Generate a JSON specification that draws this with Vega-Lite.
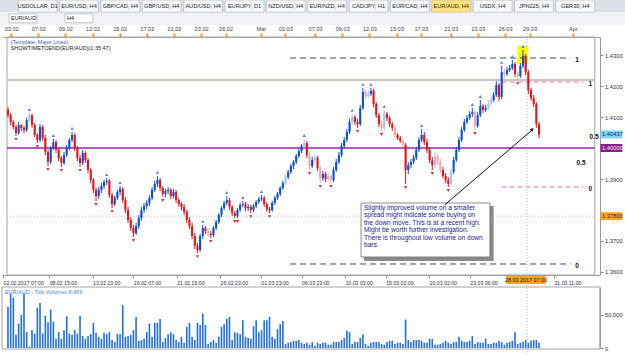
{
"$schema": "https://vega.github.io/schema/vega-lite/v6.json",
"width": 625, "height": 355, "padding": 0, "autosize": "none",
"background": "#ffffff",
"config": {"view": {"stroke": null}, "font": "Liberation Sans",
  "axis": {"labelFont": "Liberation Sans", "labelFontSize": 6, "labelColor": "#30304a", "titleOpacity": 0, "grid": false, "domainColor": "#9a9a9a", "tickColor": "#8a8a8a", "tickSize": 3, "labelPadding": 1.5},
  "text": {"font": "Liberation Sans"}},
"datasets": {"bars": [
{"i":0,"o":1.4123,"h":1.4132,"l":1.4097,"c":1.4106,"v":62000},
{"i":1,"o":1.4106,"h":1.4113,"l":1.4074,"c":1.4084,"v":82000},
{"i":2,"o":1.4084,"h":1.4090,"l":1.4061,"c":1.4068,"v":76000},
{"i":3,"o":1.4068,"h":1.4074,"l":1.4039,"c":1.4048,"v":20000},
{"i":4,"o":1.4048,"h":1.4084,"l":1.4042,"c":1.4074,"v":37000},
{"i":5,"o":1.4074,"h":1.4077,"l":1.4055,"c":1.4065,"v":50000},
{"i":6,"o":1.4065,"h":1.4071,"l":1.4048,"c":1.4058,"v":83000},
{"i":7,"o":1.4058,"h":1.4097,"l":1.4052,"c":1.4090,"v":24000},
{"i":8,"o":1.4090,"h":1.4113,"l":1.4084,"c":1.4106,"v":2000},
{"i":9,"o":1.4106,"h":1.4110,"l":1.4065,"c":1.4074,"v":27000},
{"i":10,"o":1.4074,"h":1.4081,"l":1.4035,"c":1.4042,"v":22000},
{"i":11,"o":1.4042,"h":1.4048,"l":1.4016,"c":1.4026,"v":61000},
{"i":12,"o":1.4026,"h":1.4077,"l":1.4019,"c":1.4068,"v":68000},
{"i":13,"o":1.4068,"h":1.4074,"l":1.4023,"c":1.4032,"v":22000},
{"i":14,"o":1.4032,"h":1.4042,"l":1.3977,"c":1.3987,"v":49000},
{"i":15,"o":1.3987,"h":1.3994,"l":1.3942,"c":1.3955,"v":39000},
{"i":16,"o":1.3955,"h":1.4006,"l":1.3948,"c":1.4000,"v":58000},
{"i":17,"o":1.4000,"h":1.4029,"l":1.3994,"c":1.4019,"v":40000},
{"i":18,"o":1.4019,"h":1.4026,"l":1.3984,"c":1.3994,"v":14000},
{"i":19,"o":1.3994,"h":1.4000,"l":1.3958,"c":1.3968,"v":24000},
{"i":20,"o":1.3968,"h":1.3974,"l":1.3939,"c":1.3952,"v":14000},
{"i":21,"o":1.3952,"h":1.3987,"l":1.3945,"c":1.3977,"v":27000},
{"i":22,"o":1.3977,"h":1.4010,"l":1.3971,"c":1.4000,"v":48000},
{"i":23,"o":1.4000,"h":1.4032,"l":1.3994,"c":1.4026,"v":22000},
{"i":24,"o":1.4026,"h":1.4052,"l":1.4019,"c":1.4042,"v":20000},
{"i":25,"o":1.4042,"h":1.4048,"l":1.3990,"c":1.4000,"v":27000},
{"i":26,"o":1.4000,"h":1.4006,"l":1.3958,"c":1.3968,"v":22000},
{"i":27,"o":1.3968,"h":1.3977,"l":1.3939,"c":1.3952,"v":49000},
{"i":28,"o":1.3952,"h":1.3994,"l":1.3945,"c":1.3984,"v":18000},
{"i":29,"o":1.3984,"h":1.3990,"l":1.3952,"c":1.3961,"v":14000},
{"i":30,"o":1.3961,"h":1.3968,"l":1.3919,"c":1.3929,"v":18000},
{"i":31,"o":1.3929,"h":1.3935,"l":1.3887,"c":1.3897,"v":21000},
{"i":32,"o":1.3897,"h":1.3903,"l":1.3855,"c":1.3865,"v":38000},
{"i":33,"o":1.3865,"h":1.3871,"l":1.3829,"c":1.3845,"v":23000},
{"i":34,"o":1.3845,"h":1.3874,"l":1.3835,"c":1.3865,"v":17000},
{"i":35,"o":1.3865,"h":1.3887,"l":1.3855,"c":1.3877,"v":14000},
{"i":36,"o":1.3877,"h":1.3897,"l":1.3868,"c":1.3890,"v":23000},
{"i":37,"o":1.3890,"h":1.3903,"l":1.3881,"c":1.3894,"v":21000},
{"i":38,"o":1.3894,"h":1.3900,"l":1.3839,"c":1.3848,"v":24000},
{"i":39,"o":1.3848,"h":1.3855,"l":1.3806,"c":1.3819,"v":12000},
{"i":40,"o":1.3819,"h":1.3845,"l":1.3813,"c":1.3839,"v":9000},
{"i":41,"o":1.3839,"h":1.3865,"l":1.3832,"c":1.3858,"v":21000},
{"i":42,"o":1.3858,"h":1.3877,"l":1.3848,"c":1.3868,"v":21000},
{"i":43,"o":1.3868,"h":1.3874,"l":1.3823,"c":1.3832,"v":65000},
{"i":44,"o":1.3832,"h":1.3842,"l":1.3790,"c":1.3800,"v":17000},
{"i":45,"o":1.3800,"h":1.3810,"l":1.3758,"c":1.3768,"v":18000},
{"i":46,"o":1.3768,"h":1.3777,"l":1.3732,"c":1.3742,"v":20000},
{"i":47,"o":1.3742,"h":1.3752,"l":1.3713,"c":1.3726,"v":27000},
{"i":48,"o":1.3726,"h":1.3758,"l":1.3719,"c":1.3748,"v":47000},
{"i":49,"o":1.3748,"h":1.3784,"l":1.3739,"c":1.3774,"v":11000},
{"i":50,"o":1.3774,"h":1.3810,"l":1.3765,"c":1.3800,"v":12000},
{"i":51,"o":1.3800,"h":1.3823,"l":1.3790,"c":1.3813,"v":14000},
{"i":52,"o":1.3813,"h":1.3832,"l":1.3803,"c":1.3823,"v":24000},
{"i":53,"o":1.3823,"h":1.3848,"l":1.3813,"c":1.3839,"v":37000},
{"i":54,"o":1.3839,"h":1.3874,"l":1.3832,"c":1.3865,"v":17000},
{"i":55,"o":1.3865,"h":1.3894,"l":1.3858,"c":1.3884,"v":38000},
{"i":56,"o":1.3884,"h":1.3910,"l":1.3874,"c":1.3897,"v":38000},
{"i":57,"o":1.3897,"h":1.3903,"l":1.3861,"c":1.3871,"v":44000},
{"i":58,"o":1.3871,"h":1.3877,"l":1.3842,"c":1.3852,"v":9000},
{"i":59,"o":1.3852,"h":1.3868,"l":1.3842,"c":1.3861,"v":15000},
{"i":60,"o":1.3861,"h":1.3874,"l":1.3852,"c":1.3865,"v":21000},
{"i":61,"o":1.3865,"h":1.3871,"l":1.3835,"c":1.3845,"v":24000},
{"i":62,"o":1.3845,"h":1.3868,"l":1.3839,"c":1.3858,"v":21000},
{"i":63,"o":1.3858,"h":1.3865,"l":1.3823,"c":1.3832,"v":12000},
{"i":64,"o":1.3832,"h":1.3839,"l":1.3810,"c":1.3819,"v":9000},
{"i":65,"o":1.3819,"h":1.3826,"l":1.3800,"c":1.3810,"v":17000},
{"i":66,"o":1.3810,"h":1.3819,"l":1.3784,"c":1.3794,"v":8000},
{"i":67,"o":1.3794,"h":1.3800,"l":1.3758,"c":1.3768,"v":32000},
{"i":68,"o":1.3768,"h":1.3777,"l":1.3739,"c":1.3748,"v":38000},
{"i":69,"o":1.3748,"h":1.3758,"l":1.3706,"c":1.3716,"v":17000},
{"i":70,"o":1.3716,"h":1.3726,"l":1.3674,"c":1.3684,"v":12000},
{"i":71,"o":1.3684,"h":1.3694,"l":1.3661,"c":1.3671,"v":38000},
{"i":72,"o":1.3671,"h":1.3723,"l":1.3665,"c":1.3716,"v":35000},
{"i":73,"o":1.3716,"h":1.3752,"l":1.3706,"c":1.3742,"v":52000},
{"i":74,"o":1.3742,"h":1.3748,"l":1.3723,"c":1.3732,"v":35000},
{"i":75,"o":1.3732,"h":1.3739,"l":1.3713,"c":1.3723,"v":6000},
{"i":76,"o":1.3723,"h":1.3732,"l":1.3710,"c":1.3719,"v":9000},
{"i":77,"o":1.3719,"h":1.3748,"l":1.3713,"c":1.3742,"v":12000},
{"i":78,"o":1.3742,"h":1.3768,"l":1.3735,"c":1.3761,"v":8000},
{"i":79,"o":1.3761,"h":1.3790,"l":1.3755,"c":1.3784,"v":17000},
{"i":80,"o":1.3784,"h":1.3813,"l":1.3777,"c":1.3806,"v":32000},
{"i":81,"o":1.3806,"h":1.3829,"l":1.3800,"c":1.3823,"v":36000},
{"i":82,"o":1.3823,"h":1.3845,"l":1.3816,"c":1.3832,"v":44000},
{"i":83,"o":1.3832,"h":1.3839,"l":1.3800,"c":1.3810,"v":47000},
{"i":84,"o":1.3810,"h":1.3816,"l":1.3781,"c":1.3790,"v":12000},
{"i":85,"o":1.3790,"h":1.3797,"l":1.3774,"c":1.3781,"v":24000},
{"i":86,"o":1.3781,"h":1.3806,"l":1.3774,"c":1.3800,"v":23000},
{"i":87,"o":1.3800,"h":1.3823,"l":1.3794,"c":1.3816,"v":21000},
{"i":88,"o":1.3816,"h":1.3829,"l":1.3810,"c":1.3819,"v":42000},
{"i":89,"o":1.3819,"h":1.3826,"l":1.3797,"c":1.3806,"v":17000},
{"i":90,"o":1.3806,"h":1.3819,"l":1.3797,"c":1.3810,"v":15000},
{"i":91,"o":1.3810,"h":1.3816,"l":1.3790,"c":1.3800,"v":14000},
{"i":92,"o":1.3800,"h":1.3819,"l":1.3794,"c":1.3813,"v":33000},
{"i":93,"o":1.3813,"h":1.3832,"l":1.3806,"c":1.3826,"v":42000},
{"i":94,"o":1.3826,"h":1.3842,"l":1.3819,"c":1.3835,"v":24000},
{"i":95,"o":1.3835,"h":1.3848,"l":1.3829,"c":1.3839,"v":27000},
{"i":96,"o":1.3839,"h":1.3845,"l":1.3810,"c":1.3819,"v":42000},
{"i":97,"o":1.3819,"h":1.3826,"l":1.3794,"c":1.3803,"v":42000},
{"i":98,"o":1.3803,"h":1.3810,"l":1.3790,"c":1.3800,"v":47000},
{"i":99,"o":1.3800,"h":1.3829,"l":1.3794,"c":1.3823,"v":17000},
{"i":100,"o":1.3823,"h":1.3845,"l":1.3816,"c":1.3839,"v":14000},
{"i":101,"o":1.3839,"h":1.3858,"l":1.3832,"c":1.3852,"v":29000},
{"i":102,"o":1.3852,"h":1.3877,"l":1.3845,"c":1.3871,"v":36000},
{"i":103,"o":1.3871,"h":1.3894,"l":1.3865,"c":1.3887,"v":41000},
{"i":104,"o":1.3887,"h":1.3913,"l":1.3881,"c":1.3906,"v":6000},
{"i":105,"o":1.3906,"h":1.3929,"l":1.3900,"c":1.3923,"v":8000},
{"i":106,"o":1.3923,"h":1.3948,"l":1.3916,"c":1.3942,"v":9000},
{"i":107,"o":1.3942,"h":1.3961,"l":1.3932,"c":1.3955,"v":11000},
{"i":108,"o":1.3955,"h":1.3981,"l":1.3948,"c":1.3974,"v":11000},
{"i":109,"o":1.3974,"h":1.3997,"l":1.3968,"c":1.3990,"v":12000},
{"i":110,"o":1.3990,"h":1.4013,"l":1.3984,"c":1.4006,"v":8000},
{"i":111,"o":1.4006,"h":1.4029,"l":1.4000,"c":1.4016,"v":6000},
{"i":112,"o":1.4016,"h":1.4023,"l":1.3968,"c":1.3977,"v":8000},
{"i":113,"o":1.3977,"h":1.3987,"l":1.3929,"c":1.3942,"v":5000},
{"i":114,"o":1.3942,"h":1.3971,"l":1.3935,"c":1.3961,"v":9000},
{"i":115,"o":1.3961,"h":1.3977,"l":1.3952,"c":1.3968,"v":3000},
{"i":116,"o":1.3968,"h":1.3974,"l":1.3926,"c":1.3935,"v":8000},
{"i":117,"o":1.3935,"h":1.3942,"l":1.3887,"c":1.3903,"v":6000},
{"i":118,"o":1.3903,"h":1.3926,"l":1.3894,"c":1.3916,"v":8000},
{"i":119,"o":1.3916,"h":1.3923,"l":1.3890,"c":1.3900,"v":8000},
{"i":120,"o":1.3900,"h":1.3919,"l":1.3894,"c":1.3910,"v":5000},
{"i":121,"o":1.3910,"h":1.3916,"l":1.3887,"c":1.3897,"v":5000},
{"i":122,"o":1.3897,"h":1.3939,"l":1.3890,"c":1.3929,"v":9000},
{"i":123,"o":1.3929,"h":1.3965,"l":1.3923,"c":1.3955,"v":9000},
{"i":124,"o":1.3955,"h":1.3987,"l":1.3948,"c":1.3977,"v":9000},
{"i":125,"o":1.3977,"h":1.4016,"l":1.3971,"c":1.4006,"v":12000},
{"i":126,"o":1.4006,"h":1.4035,"l":1.4000,"c":1.4026,"v":15000},
{"i":127,"o":1.4026,"h":1.4061,"l":1.4019,"c":1.4052,"v":26000},
{"i":128,"o":1.4052,"h":1.4094,"l":1.4045,"c":1.4084,"v":24000},
{"i":129,"o":1.4084,"h":1.4110,"l":1.4077,"c":1.4100,"v":6000},
{"i":130,"o":1.4100,"h":1.4106,"l":1.4074,"c":1.4084,"v":9000},
{"i":131,"o":1.4084,"h":1.4094,"l":1.4065,"c":1.4077,"v":9000},
{"i":132,"o":1.4077,"h":1.4139,"l":1.4071,"c":1.4129,"v":15000},
{"i":133,"o":1.4129,"h":1.4194,"l":1.4123,"c":1.4181,"v":21000},
{"i":134,"o":1.4181,"h":1.4187,"l":1.4158,"c":1.4168,"v":6000},
{"i":135,"o":1.4168,"h":1.4184,"l":1.4161,"c":1.4174,"v":3000},
{"i":136,"o":1.4174,"h":1.4194,"l":1.4168,"c":1.4184,"v":8000},
{"i":137,"o":1.4184,"h":1.4190,"l":1.4132,"c":1.4142,"v":9000},
{"i":138,"o":1.4142,"h":1.4148,"l":1.4097,"c":1.4106,"v":9000},
{"i":139,"o":1.4106,"h":1.4113,"l":1.4068,"c":1.4077,"v":9000},
{"i":140,"o":1.4077,"h":1.4087,"l":1.4055,"c":1.4065,"v":6000},
{"i":141,"o":1.4065,"h":1.4123,"l":1.4058,"c":1.4110,"v":5000},
{"i":142,"o":1.4110,"h":1.4116,"l":1.4087,"c":1.4097,"v":9000},
{"i":143,"o":1.4097,"h":1.4103,"l":1.4068,"c":1.4077,"v":11000},
{"i":144,"o":1.4077,"h":1.4084,"l":1.4055,"c":1.4065,"v":11000},
{"i":145,"o":1.4065,"h":1.4071,"l":1.4035,"c":1.4042,"v":6000},
{"i":146,"o":1.4042,"h":1.4048,"l":1.4026,"c":1.4032,"v":8000},
{"i":147,"o":1.4032,"h":1.4039,"l":1.4016,"c":1.4023,"v":8000},
{"i":148,"o":1.4023,"h":1.4029,"l":1.4003,"c":1.4010,"v":6000},
{"i":149,"o":1.4010,"h":1.4016,"l":1.3884,"c":1.3929,"v":43000},
{"i":150,"o":1.3929,"h":1.3955,"l":1.3916,"c":1.3945,"v":12000},
{"i":151,"o":1.3945,"h":1.3965,"l":1.3935,"c":1.3955,"v":9000},
{"i":152,"o":1.3955,"h":1.3977,"l":1.3948,"c":1.3968,"v":12000},
{"i":153,"o":1.3968,"h":1.4003,"l":1.3961,"c":1.3994,"v":12000},
{"i":154,"o":1.3994,"h":1.4035,"l":1.3987,"c":1.4026,"v":12000},
{"i":155,"o":1.4026,"h":1.4061,"l":1.4019,"c":1.4042,"v":11000},
{"i":156,"o":1.4042,"h":1.4052,"l":1.4010,"c":1.4019,"v":8000},
{"i":157,"o":1.4019,"h":1.4029,"l":1.3984,"c":1.3994,"v":8000},
{"i":158,"o":1.3994,"h":1.4003,"l":1.3952,"c":1.3961,"v":14000},
{"i":159,"o":1.3961,"h":1.3971,"l":1.3929,"c":1.3945,"v":14000},
{"i":160,"o":1.3945,"h":1.3987,"l":1.3935,"c":1.3974,"v":5000},
{"i":161,"o":1.3974,"h":1.3981,"l":1.3945,"c":1.3955,"v":5000},
{"i":162,"o":1.3955,"h":1.3965,"l":1.3919,"c":1.3929,"v":6000},
{"i":163,"o":1.3929,"h":1.3939,"l":1.3903,"c":1.3910,"v":8000},
{"i":164,"o":1.3910,"h":1.3919,"l":1.3887,"c":1.3897,"v":11000},
{"i":165,"o":1.3897,"h":1.3906,"l":1.3874,"c":1.3884,"v":8000},
{"i":166,"o":1.3884,"h":1.3932,"l":1.3877,"c":1.3923,"v":6000},
{"i":167,"o":1.3923,"h":1.3971,"l":1.3916,"c":1.3961,"v":9000},
{"i":168,"o":1.3961,"h":1.4003,"l":1.3955,"c":1.3994,"v":9000},
{"i":169,"o":1.3994,"h":1.4035,"l":1.3987,"c":1.4026,"v":17000},
{"i":170,"o":1.4026,"h":1.4068,"l":1.4019,"c":1.4058,"v":11000},
{"i":171,"o":1.4058,"h":1.4094,"l":1.4052,"c":1.4084,"v":9000},
{"i":172,"o":1.4084,"h":1.4106,"l":1.4077,"c":1.4097,"v":9000},
{"i":173,"o":1.4097,"h":1.4119,"l":1.4090,"c":1.4110,"v":11000},
{"i":174,"o":1.4110,"h":1.4129,"l":1.4100,"c":1.4116,"v":18000},
{"i":175,"o":1.4116,"h":1.4123,"l":1.4058,"c":1.4071,"v":6000},
{"i":176,"o":1.4071,"h":1.4116,"l":1.4065,"c":1.4106,"v":9000},
{"i":177,"o":1.4106,"h":1.4155,"l":1.4100,"c":1.4135,"v":8000},
{"i":178,"o":1.4135,"h":1.4142,"l":1.4113,"c":1.4123,"v":8000},
{"i":179,"o":1.4123,"h":1.4139,"l":1.4116,"c":1.4129,"v":14000},
{"i":180,"o":1.4129,"h":1.4155,"l":1.4123,"c":1.4142,"v":6000},
{"i":181,"o":1.4142,"h":1.4165,"l":1.4135,"c":1.4155,"v":6000},
{"i":182,"o":1.4155,"h":1.4181,"l":1.4148,"c":1.4171,"v":8000},
{"i":183,"o":1.4171,"h":1.4216,"l":1.4165,"c":1.4203,"v":8000},
{"i":184,"o":1.4203,"h":1.4210,"l":1.4152,"c":1.4165,"v":11000},
{"i":185,"o":1.4165,"h":1.4265,"l":1.4158,"c":1.4245,"v":9000},
{"i":186,"o":1.4245,"h":1.4255,"l":1.4226,"c":1.4239,"v":5000},
{"i":187,"o":1.4239,"h":1.4261,"l":1.4232,"c":1.4252,"v":8000},
{"i":188,"o":1.4252,"h":1.4268,"l":1.4245,"c":1.4258,"v":9000},
{"i":189,"o":1.4258,"h":1.4284,"l":1.4252,"c":1.4271,"v":11000},
{"i":190,"o":1.4271,"h":1.4277,"l":1.4229,"c":1.4239,"v":24000},
{"i":191,"o":1.4239,"h":1.4245,"l":1.4219,"c":1.4232,"v":6000},
{"i":192,"o":1.4232,"h":1.4274,"l":1.4226,"c":1.4265,"v":8000},
{"i":193,"o":1.4265,"h":1.4316,"l":1.4258,"c":1.4297,"v":9000},
{"i":194,"o":1.4297,"h":1.4303,"l":1.4235,"c":1.4245,"v":12000},
{"i":195,"o":1.4245,"h":1.4252,"l":1.4174,"c":1.4187,"v":8000},
{"i":196,"o":1.4187,"h":1.4194,"l":1.4152,"c":1.4161,"v":11000},
{"i":197,"o":1.4161,"h":1.4171,"l":1.4132,"c":1.4142,"v":12000},
{"i":198,"o":1.4142,"h":1.4148,"l":1.4065,"c":1.4077,"v":12000},
{"i":199,"o":1.4077,"h":1.4084,"l":1.4032,"c":1.40437,"v":8469}
]},
"resolve": {"scale": {"x": "independent", "y": "independent"}, "axis": {"x": "independent", "y": "independent"}},
"layer": [
{
 "data": {"values": [{"i": 193.1}]},
 "mark": {"type": "rule", "color": "#b8b8b8", "strokeDash": [1, 2], "strokeWidth": 1},
 "encoding": {
  "x": {"field": "i", "type": "quantitative", "title": null,
   "scale": {"domain": [-0.37, 219.9], "range": [2, 599.8], "nice": false, "zero": false},
   "axis": {"orient": "top", "offset": -37, "title": null,
    "values": [3,13,23,33,43,53,63,73,82,95,104,115,125,135,145,154,165,175,185,194,210],
    "labelExpr": "['03.02','07.02','09.02','12.02','15.02','17.02','21.02','23.02','26.02','Mar','03.03','07.03','09.03','12.03','15.03','17.03','21.03','23.03','26.03','29.03','Apr'][indexof([3,13,23,33,43,53,63,73,82,95,104,115,125,135,145,154,165,175,185,194,210], datum.value)]",
    "tickColor": "#f29b1d", "tickWidth": 2, "tickSize": 4, "labelFontSize": 5.6, "labelColor": "#40405a", "domainColor": "#a9a9a9", "labelOverlap": false, "labelBound": false, "labelFlush": false}}
 }
},
{
 "layer": [
  {"data": {"values": [{"k": 1}]},
   "mark": {"type": "rect", "filled": false, "stroke": "#a4a4a4", "strokeWidth": 1},
   "encoding": {"x": {"datum": -0.37, "type": "quantitative", "axis": null}, "x2": {"datum": 219.9}, "y": {"datum": 1.35903, "type": "quantitative", "axis": null}, "y2": {"datum": 1.43581}}},
  {"data": {"values": [{"k": 1}]},
   "mark": {"type": "rect", "color": "#ffff00"},
   "encoding": {"x": {"datum": 190.9, "type": "quantitative", "axis": null}, "x2": {"datum": 194.9}, "y": {"datum": 1.4271, "type": "quantitative", "axis": null}, "y2": {"datum": 1.4329}}},
  {"data": {"values": [{"p": 1.42194}]},
   "mark": {"type": "rule", "color": "#b3b3a4", "strokeWidth": 1.5},
   "encoding": {"x": {"datum": -0.37, "type": "quantitative", "axis": null}, "x2": {"datum": 219.9}, "y": {"field": "p", "type": "quantitative", "title": null, "axis": null}}},
  {"data": {"values": [{"p": 1.4}]},
   "mark": {"type": "rule", "color": "#b25abd", "strokeWidth": 2},
   "encoding": {"x": {"datum": -0.37, "type": "quantitative", "axis": null}, "x2": {"datum": 219.9}, "y": {"field": "p", "type": "quantitative", "title": null, "axis": null}}},
  {"data": {"values": [{"p": 1.42903}, {"p": 1.36258}]},
   "mark": {"type": "rule", "color": "#4d4d4d", "strokeWidth": 1, "strokeDash": [6, 4]},
   "encoding": {"x": {"datum": 105.7, "type": "quantitative", "axis": null}, "x2": {"datum": 210.8}, "y": {"field": "p", "type": "quantitative", "title": null, "axis": null}}},
  {"data": {"values": [{"p": 1.42129}, {"p": 1.38742}]},
   "mark": {"type": "rule", "color": "#ff9fc9", "strokeWidth": 1.5, "strokeDash": [5, 3]},
   "encoding": {"x": {"datum": 185, "type": "quantitative", "axis": null}, "x2": {"datum": 215.6}, "y": {"field": "p", "type": "quantitative", "title": null, "axis": null}}},
  {"data": {"values": [{"p": 1.378}]},
   "mark": {"type": "rule", "color": "#c4c4c4", "strokeWidth": 1, "strokeDash": [1, 2]},
   "encoding": {"x": {"datum": -0.37, "type": "quantitative", "axis": null}, "x2": {"datum": 219.9}, "y": {"field": "p", "type": "quantitative", "title": null, "axis": null}}},
  {"data": {"name": "bars"},
   "mark": {"type": "rule", "strokeWidth": 1},
   "encoding": {
    "x": {"field": "i", "type": "quantitative", "title": null, "axis": null,
     "scale": {"domain": [-0.37, 219.9], "range": [2, 599.8], "nice": false, "zero": false}},
    "y": {"field": "l", "type": "quantitative", "title": null, "axis": null,
     "scale": {"domain": [1.35903, 1.43581], "range": [275, 37], "nice": false, "zero": false}},
    "y2": {"field": "h"},
    "color": {"condition": [
      {"test": "datum.c >= datum.o && datum.v < 7000", "value": "#9ec3f2"},
      {"test": "datum.c >= datum.o", "value": "#0b4fd4"},
      {"test": "datum.v < 7000", "value": "#f5a3a3"}], "value": "#e5131b"}
   }},
  {"data": {"name": "bars"},
   "mark": {"type": "bar", "size": 2.1},
   "encoding": {
    "x": {"field": "i", "type": "quantitative", "title": null, "axis": null},
    "y": {"field": "o", "type": "quantitative", "title": null, "axis": null},
    "y2": {"field": "c"},
    "color": {"condition": [
      {"test": "datum.c >= datum.o && datum.v < 7000", "value": "#9ec3f2"},
      {"test": "datum.c >= datum.o", "value": "#0b4fd4"},
      {"test": "datum.v < 7000", "value": "#f5a3a3"}], "value": "#e5131b"}
   }},
  {"data": {"name": "bars"},
   "transform": [
    {"window": [{"op": "max", "field": "h", "as": "hmax"}, {"op": "count", "as": "n"}], "frame": [-2, 2], "sort": [{"field": "i"}]},
    {"filter": "datum.n == 5 && datum.h == datum.hmax"}],
   "mark": {"type": "point", "shape": "triangle-up", "filled": true, "size": 11, "color": "#4b86e0", "yOffset": -3.5, "opacity": 1},
   "encoding": {"x": {"field": "i", "type": "quantitative", "title": null, "axis": null}, "y": {"field": "h", "type": "quantitative", "title": null, "axis": null}}},
  {"data": {"name": "bars"},
   "transform": [
    {"window": [{"op": "min", "field": "l", "as": "lmin"}, {"op": "count", "as": "n"}], "frame": [-2, 2], "sort": [{"field": "i"}]},
    {"filter": "datum.n == 5 && datum.l == datum.lmin"}],
   "mark": {"type": "point", "shape": "triangle-down", "filled": true, "size": 11, "color": "#e53030", "yOffset": 3.5, "opacity": 1},
   "encoding": {"x": {"field": "i", "type": "quantitative", "title": null, "axis": null}, "y": {"field": "l", "type": "quantitative", "title": null, "axis": null}}},
  {"data": {"values": [{"t": "(Template: Major Lines)"}]},
   "mark": {"type": "text", "align": "left", "baseline": "middle", "fontSize": 5.5, "color": "#3a5bbf"},
   "encoding": {"x": {"datum": 1.0, "type": "quantitative", "axis": null}, "y": {"datum": 1.43419, "type": "quantitative", "axis": null}, "text": {"field": "t"}}},
  {"data": {"values": [{"t": "SHOWTIMETOEND(EUR/AUD)(1:35:47)"}]},
   "mark": {"type": "text", "align": "left", "baseline": "middle", "fontSize": 5.5, "color": "#202020"},
   "encoding": {"x": {"datum": 1.0, "type": "quantitative", "axis": null}, "y": {"datum": 1.43226, "type": "quantitative", "axis": null}, "text": {"field": "t"}}},
  {"data": {"values": [{"k": 1}]},
   "mark": {"type": "rect", "color": "#8c8c8c"},
   "encoding": {"x": {"datum": 133.4, "type": "quantitative", "axis": null}, "x2": {"datum": 182.0}, "y": {"datum": 1.36355, "type": "quantitative", "axis": null}, "y2": {"datum": 1.38129}}},
  {"data": {"values": [{"k": 1}]},
   "mark": {"type": "rect", "fill": "#ffffff", "stroke": "#707070", "strokeWidth": 0.8},
   "encoding": {"x": {"datum": 132.3, "type": "quantitative", "axis": null}, "x2": {"datum": 180.6}, "y": {"datum": 1.36484, "type": "quantitative", "axis": null}, "y2": {"datum": 1.38226}}},
  {"data": {"values": [{"t": "Slightly improved volume on a smaller\nspread might indicate some buying on\nthe down move. This is at a recent high.\nMight be worth further investigation.\nThere is throughout low volume on down\nbars."}]},
   "mark": {"type": "text", "align": "left", "baseline": "top", "lineBreak": "\n", "fontSize": 6.6, "lineHeight": 7.4, "color": "#1c1c8c"},
   "encoding": {"x": {"datum": 133.4, "type": "quantitative", "axis": null}, "y": {"datum": 1.38161, "type": "quantitative", "axis": null}, "text": {"field": "t"}}},
  {"data": {"values": [{"i": 163.6, "p": 1.38161, "k": 0}, {"i": 196.4, "p": 1.40580, "k": 1}]},
   "mark": {"type": "line", "color": "#111111", "strokeWidth": 1},
   "encoding": {"x": {"field": "i", "type": "quantitative", "title": null, "axis": null}, "y": {"field": "p", "type": "quantitative", "title": null, "axis": null}, "order": {"field": "k"}}},
  {"data": {"values": [{"i": 196.5, "p": 1.40600}]},
   "mark": {"type": "point", "shape": "triangle-up", "filled": true, "size": 16, "angle": 49, "color": "#111111", "opacity": 1},
   "encoding": {"x": {"field": "i", "type": "quantitative", "title": null, "axis": null}, "y": {"field": "p", "type": "quantitative", "title": null, "axis": null}}}
 ]
},
{
 "data": {"values": [
    {"t": "1", "i": 210.9, "p": 1.42903}, {"t": "0.5", "i": 211.3, "p": 1.3958}, {"t": "0", "i": 210.9, "p": 1.36258},
    {"t": "1", "i": 215.7, "p": 1.42129}, {"t": "0.5", "i": 216.1, "p": 1.40435}, {"t": "0", "i": 215.7, "p": 1.38742}]},
 "mark": {"type": "text", "align": "left", "baseline": "middle", "dy": 2, "fontSize": 6.5, "fontWeight": "bold", "color": "#111111"},
 "encoding": {
  "x": {"field": "i", "type": "quantitative", "title": null,
   "scale": {"domain": [-0.37, 219.9], "range": [2, 599.8], "nice": false, "zero": false},
   "axis": {"orient": "bottom", "offset": -80, "title": null,
    "values": [0,17,33,48,64,80,95,110,126,141,157,172,203],
    "labelExpr": "['02.02.2017 07:00','08.02 15:00','13.02 23:00','16.02 07:00','21.02 15:00','26.02 23:00','01.03 23:00','06.03 23:00','10.03 03:00','15.03 02:00','20.03 02:00','23.03 06:00','31.03 11:00'][indexof([0,17,33,48,64,80,95,110,126,141,157,172,203], datum.value)]",
    "labelAlign": "left", "labelFontSize": 5.2, "tickSize": 3, "labelPadding": 2, "labelOverlap": false, "labelBound": false, "labelFlush": false}},
  "y": {"field": "p", "type": "quantitative", "title": null,
   "scale": {"domain": [1.35903, 1.43581], "range": [275, 37], "nice": false, "zero": false},
   "axis": {"orient": "right", "offset": -25, "title": null, "values": [1.36,1.37,1.39,1.41,1.42,1.43], "format": ".4f", "labelFontSize": 5.8, "tickSize": 3, "labelOverlap": false, "labelBound": false, "labelFlush": false}},
  "text": {"field": "t"}
 }
},
{
 "layer": [
  {"data": {"values": [{"p": 1.40437, "t": "1.40437"}, {"p": 1.4, "t": "1.40000"}, {"p": 1.378, "t": "1.37800"}]},
   "mark": {"type": "rule", "strokeWidth": 8},
   "encoding": {"x": {"datum": 220.15, "type": "quantitative", "axis": null, "scale": {"domain": [-0.37, 219.9], "range": [2, 599.8], "nice": false, "zero": false}}, "x2": {"datum": 228.2},
    "y": {"field": "p", "type": "quantitative", "title": null, "axis": null, "scale": {"domain": [1.35903, 1.43581], "range": [275, 37], "nice": false, "zero": false}},
    "color": {"condition": [{"test": "datum.t == '1.40437'", "value": "#7fd6f7"}, {"test": "datum.t == '1.40000'", "value": "#8b1c8b"}], "value": "#ffa51f"}}},
  {"data": {"values": [{"p": 1.40437, "t": "1.40437"}, {"p": 1.4, "t": "1.40000"}, {"p": 1.378, "t": "1.37800"}]},
   "mark": {"type": "text", "align": "left", "baseline": "middle", "fontSize": 5.8},
   "encoding": {"x": {"datum": 220.7, "type": "quantitative", "axis": null}, "y": {"field": "p", "type": "quantitative", "title": null, "axis": null}, "text": {"field": "t"},
    "color": {"condition": {"test": "datum.t == '1.40000'", "value": "#e8ffe8"}, "value": "#1b2a4a"}}},
  {"data": {"values": [{"k": 1}]},
   "mark": {"type": "rule", "strokeWidth": 8, "color": "#ffa51f"},
   "encoding": {"x": {"datum": 185.4, "type": "quantitative", "axis": null}, "x2": {"datum": 200.0}, "y": {"datum": 1.35742, "type": "quantitative", "axis": null}}},
  {"data": {"values": [{"t": "28.03.2017 07:00"}]},
   "mark": {"type": "text", "align": "center", "baseline": "middle", "fontSize": 5.4, "color": "#111111"},
   "encoding": {"x": {"datum": 192.7, "type": "quantitative", "axis": null}, "y": {"datum": 1.35742, "type": "quantitative", "axis": null}, "text": {"field": "t"}}}
 ]
},
{
 "layer": [
  {"data": {"values": [{"k": 1}]},
   "mark": {"type": "rect", "filled": false, "stroke": "#a4a4a4", "strokeWidth": 1},
   "encoding": {"x": {"datum": -0.37, "type": "quantitative", "axis": null, "scale": {"domain": [-0.37, 219.9], "range": [2, 599.8], "nice": false, "zero": false}}, "x2": {"datum": 219.9},
    "y": {"datum": -1515, "type": "quantitative", "axis": null, "scale": {"domain": [0, 92400], "range": [348, 287], "nice": false, "zero": false}}, "y2": {"datum": 92400}}},
  {"data": {"values": [{"t": "EUR/AUD - Tick Volumes 8,469"}]},
   "mark": {"type": "text", "align": "left", "baseline": "middle", "fontSize": 5.5, "color": "#4d86d6"},
   "encoding": {"x": {"datum": 0.7, "type": "quantitative", "axis": null}, "y": {"datum": 85000, "type": "quantitative", "axis": null}, "text": {"field": "t"}}}
 ]
},
{
 "data": {"name": "bars"},
 "mark": {"type": "bar", "size": 1.6, "color": "#1f6fe5"},
 "encoding": {
  "x": {"field": "i", "type": "quantitative", "title": null, "axis": null,
   "scale": {"domain": [-0.37, 219.9], "range": [2, 599.8], "nice": false, "zero": false}},
  "y": {"field": "v", "type": "quantitative", "title": null,
   "scale": {"domain": [0, 92400], "range": [348, 287], "nice": false, "zero": true},
   "axis": {"orient": "right", "offset": -25, "title": null, "values": [0, 50000], "labelExpr": "datum.value == 0 ? '0' : '50,000'", "labelFontSize": 5.8, "tickSize": 3, "labelBound": false, "labelOverlap": false, "labelFlush": false}}
 }
},
{
 "layer": [
  {"data": {"values": [{"row": "tabs"}, {"row": "tools"}]},
   "mark": {"type": "rect"},
   "encoding": {
    "y": {"field": "row", "type": "nominal", "scale": {"type": "band", "domain": ["tabs", "tools"], "range": [0, 25], "paddingInner": 0.04, "paddingOuter": 0}, "axis": null},
    "color": {"condition": {"test": "datum.row == 'tabs'", "value": "#dce1e8"}, "value": "#f1f2f5"}}},
  {"data": {"values": [{"tab": "USDOLLAR, D1", "row": "tabs"}, {"tab": "EUR/USD, H4", "row": "tabs"}, {"tab": "GBP/CAD, H4", "row": "tabs"}, {"tab": "GBP/USD, H4", "row": "tabs"}, {"tab": "AUD/USD, H4", "row": "tabs"}, {"tab": "EUR/JPY, D1", "row": "tabs"}, {"tab": "NZD/USD, H4", "row": "tabs"}, {"tab": "EUR/NZD, H4", "row": "tabs"}, {"tab": "CAD/JPY, H1", "row": "tabs"}, {"tab": "EUR/CAD, H4", "row": "tabs"}, {"tab": "EUR/AUD, H4", "row": "tabs"}, {"tab": "USDX, H4", "row": "tabs"}, {"tab": "JPN225, H4", "row": "tabs"}, {"tab": "GER30, H4", "row": "tabs"}]},
   "layer": [
    {"mark": {"type": "rect", "stroke": "#aab1bd", "strokeWidth": 0.6, "cornerRadiusTopLeft": 2, "cornerRadiusTopRight": 2},
     "encoding": {
      "x": {"field": "tab", "type": "nominal", "sort": null, "axis": null,
       "scale": {"type": "band", "domain": ["USDOLLAR, D1", "EUR/USD, H4", "GBP/CAD, H4", "GBP/USD, H4", "AUD/USD, H4", "EUR/JPY, D1", "NZD/USD, H4", "EUR/NZD, H4", "CAD/JPY, H1", "EUR/CAD, H4", "EUR/AUD, H4", "USDX, H4", "JPN225, H4", "GER30, H4"], "range": [17.4, 595.6], "paddingInner": 0.06, "paddingOuter": 0.02}},
      "y": {"field": "row", "type": "nominal", "axis": null},
      "color": {"condition": {"test": "datum.tab == 'EUR/AUD, H4'", "value": "#ffe27a"}, "value": "#f6f7f9"}}},
    {"mark": {"type": "text", "fontSize": 5.6, "color": "#2a2a2a", "baseline": "middle"},
     "encoding": {"x": {"field": "tab", "type": "nominal", "sort": null, "axis": null}, "y": {"field": "row", "type": "nominal", "axis": null}, "text": {"field": "tab"}}}
   ]}
 ]
},
{
 "data": {"values": [{"k": "EUR/AUD", "row": "tools"}, {"k": "H4", "row": "tools"}]},
 "layer": [
  {"mark": {"type": "rect", "fill": "#ffffff", "stroke": "#9aa2ae", "strokeWidth": 0.6},
   "encoding": {
    "x": {"field": "k", "type": "nominal", "axis": null, "scale": {"type": "band", "domain": ["EUR/AUD", "gap", "H4"], "range": [9, 93], "paddingInner": 0, "paddingOuter": 0}},
    "y": {"field": "row", "type": "nominal", "axis": null, "scale": {"type": "band", "domain": ["tabs", "tools"], "range": [0, 24], "paddingInner": 0.3, "paddingOuter": 0.1}}}},
  {"mark": {"type": "text", "fontSize": 5.6, "align": "left", "dx": -12, "baseline": "middle", "color": "#222222"},
   "encoding": {"x": {"field": "k", "type": "nominal", "axis": null}, "y": {"field": "row", "type": "nominal", "axis": null}, "text": {"field": "k"}}}
 ]
}
]
}
